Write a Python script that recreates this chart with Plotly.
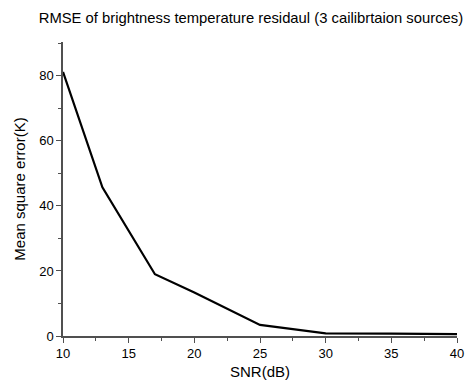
import plotly.graph_objects as go

snr = [10, 13, 17, 20, 25, 30, 35, 40]
rmse = [81.2, 45.7, 19.0, 13.4, 3.4, 0.8, 0.7, 0.6]

title_text = "RMSE of brightness temperature residaul (3 cailibrtaion sources)"
x_title = "SNR(dB)"
y_title = "Mean square error(K)"

fig = go.Figure()
fig.add_trace(go.Scatter(x=snr, y=rmse, mode="lines",
                         line=dict(color="black", width=2.2), showlegend=False,
                         cliponaxis=False))

font_family = "Liberation Sans, Arial, sans-serif"
axis_color = "#505050"

fig.update_layout(
    width=469, height=382,
    margin=dict(l=63, r=12, t=42, b=46, autoexpand=False),
    paper_bgcolor="white", plot_bgcolor="white",
    font=dict(family=font_family, color="black", size=13),
    title=dict(text=title_text, x=0.535, xanchor="center", y=0.953, yanchor="middle",
               font=dict(size=14.8, color="black")),
)
fig.update_xaxes(
    range=[10, 40], tickvals=[10, 15, 20, 25, 30, 35, 40], automargin=False,
    showgrid=False, zeroline=False, showline=True, linecolor=axis_color, linewidth=1.5,
    ticks="outside", ticklen=5, tickwidth=1.2, tickcolor=axis_color,
    minor=dict(ticks="outside", dtick=2.5, tick0=10, ticklen=3, tickwidth=1.2, tickcolor=axis_color, showgrid=False),
    tickfont=dict(size=13),
    title=dict(text=x_title, font=dict(size=15), standoff=6),
)
fig.update_yaxes(
    range=[0, 90.4], tickvals=[0, 20, 40, 60, 80], automargin=False,
    showgrid=False, zeroline=False, showline=True, linecolor=axis_color, linewidth=1.5,
    ticks="outside", ticklen=5, tickwidth=1.2, tickcolor=axis_color,
    minor=dict(ticks="outside", dtick=10, tick0=0, ticklen=3, tickwidth=1.2, tickcolor=axis_color, showgrid=False),
    tickfont=dict(size=13),
    title=dict(text=y_title, font=dict(size=15), standoff=10),
)

fig.write_html("out.html")
